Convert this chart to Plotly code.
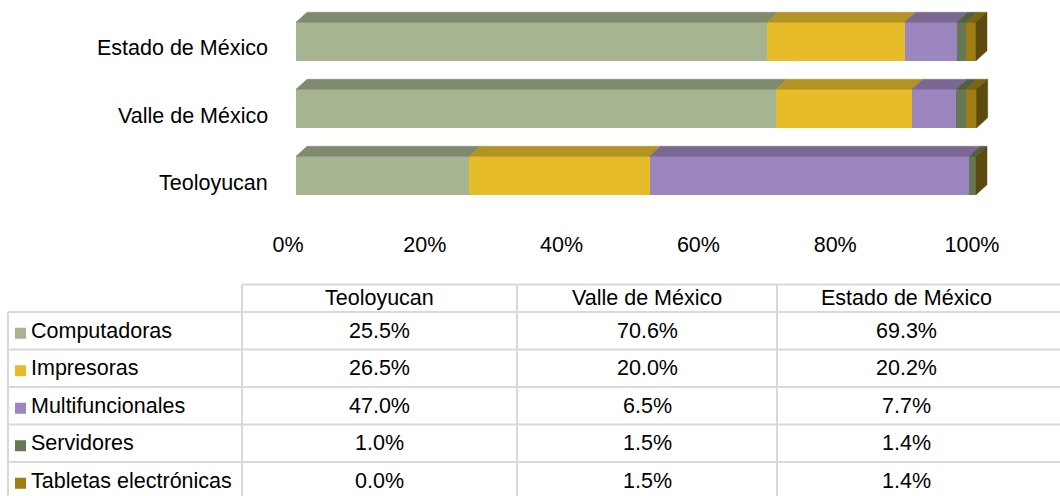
import plotly.graph_objects as go

# ---------------- data ----------------
categories = ["Teoloyucan", "Valle de México", "Estado de México"]
series_names = ["Computadoras", "Impresoras", "Multifuncionales", "Servidores", "Tabletas electrónicas"]
computadoras = [25.5, 70.6, 69.3]
impresoras = [26.5, 20.0, 20.2]
multifuncionales = [47.0, 6.5, 7.7]
servidores = [1.0, 1.5, 1.4]
tabletas = [0.0, 1.5, 1.4]
x_tick_vals = [0, 20, 40, 60, 80, 100]
x_tick_text = ["0%", "20%", "40%", "60%", "80%", "100%"]

series_values = [computadoras, impresoras, multifuncionales, servidores, tabletas]

# ---------------- style ----------------
front_colors = ["#A6B492", "#E6BD28", "#9B86BF", "#657755", "#9E7E12"]
top_colors = ["#7F8A6F", "#B39323", "#7A6892", "#515F43", "#7C6210"]
side_color = "#5C4A0E"
FONT = "Liberation Sans, Arial, sans-serif"
FS = 21.5
W, H = 1060, 496

def PX(px):
    return px / W

def PY(py):
    return 1 - py / H

# plot area geometry (pixels)
x0_px, px_per_unit = 296.0, 6.8
x_max = 103.0
y_top_px, y_bot_px = 8.0, 209.0  # range [-0.5, 2.5]
bar_w = 0.575
dx = 11 / px_per_unit            # depth offset in x units
dy = 10 / ((y_bot_px - y_top_px) / 3.0)  # depth offset in y units

fig = go.Figure()
ypos = list(range(len(categories)))

# front faces (stacked bars)
for name, vals, col in zip(series_names, series_values, front_colors):
    fig.add_trace(go.Bar(
        y=ypos, x=vals, orientation="h", name=name, width=bar_w,
        marker=dict(color=col, line=dict(width=0)), cliponaxis=False,
        showlegend=False, hoverinfo="x+name",
    ))

# top faces
for i, y in enumerate(ypos):
    base = 0.0
    yt = y + bar_w / 2
    for vals, tc in zip(series_values, top_colors):
        v = vals[i]
        if v > 0:
            xs = [base, base + v, base + v + dx, base + dx, base]
            ys = [yt, yt, yt + dy, yt + dy, yt]
            fig.add_trace(go.Scatter(x=xs, y=ys, mode="lines", fill="toself",
                                     fillcolor=tc, line=dict(color=tc, width=0.5),
                                     showlegend=False, hoverinfo="skip"))
        base += v
    # right side face
    yb = y - bar_w / 2
    xs = [base, base, base + dx, base + dx, base]
    ys = [yb, yt, yt + dy, yb + dy, yb]
    fig.add_trace(go.Scatter(x=xs, y=ys, mode="lines", fill="toself",
                             fillcolor=side_color, line=dict(color=side_color, width=0.5),
                             showlegend=False, hoverinfo="skip"))

# invisible trace to carry the label axis
fig.add_trace(go.Scatter(x=[None], y=[None], xaxis="x2", yaxis="y", showlegend=False, hoverinfo="skip"))

# axes
x_dom = [PX(x0_px), PX(x0_px + x_max * px_per_unit)]
# label axis: 0% centred at 288 px, 136.8 px per 20 %
lab_left, lab_right = 280.0, 1000.0
lab_zero, lab_scale = 288.0, 6.84
fig.update_layout(
    width=W, height=H, margin=dict(l=0, r=0, t=0, b=0, pad=0, autoexpand=False),
    paper_bgcolor="white", plot_bgcolor="rgba(0,0,0,0)",
    barmode="stack", showlegend=False,
    xaxis=dict(domain=x_dom, range=[0, x_max], showgrid=False, zeroline=False,
               showticklabels=False, showline=False, fixedrange=True, automargin=False),
    xaxis2=dict(domain=[PX(lab_left), PX(lab_right)], anchor="free",
                position=PY(229), side="bottom", automargin=False,
                range=[(lab_left - lab_zero) / lab_scale, (lab_right - lab_zero) / lab_scale],
                tickvals=x_tick_vals, ticktext=x_tick_text, showgrid=False, zeroline=False,
                showline=False, ticks="", tickfont=dict(family=FONT, size=FS, color="#000"),
                fixedrange=True),
    yaxis=dict(domain=[PY(y_bot_px), PY(y_top_px)], range=[-0.5, 2.5], showgrid=False, automargin=False,
               zeroline=False, showticklabels=False, showline=False, fixedrange=True),
)

annotations = []
# category labels
for y, c in zip(ypos, categories):
    annotations.append(dict(x=PX(270), xref="paper", y=y, yref="y", yshift=-7,
                            text=c, showarrow=False, xanchor="right", yanchor="middle",
                            font=dict(family=FONT, size=FS, color="#000")))

# ---------------- data table ----------------
grid = "#D9D9D9"
row_lines = [312.0, 349.5, 387.0, 424.5, 462.0, 499.5]
header_top = 284.5
col_edges = [8.0, 242.0, 517.0, 777.0, 1035.0]
shapes = []
lw = 2
shapes.append(dict(type="line", xref="paper", yref="paper", x0=PX(col_edges[1]), x1=PX(1060),
                   y0=PY(header_top), y1=PY(header_top), line=dict(color=grid, width=lw)))
for r in row_lines:
    shapes.append(dict(type="line", xref="paper", yref="paper", x0=PX(col_edges[0]), x1=PX(1060),
                       y0=PY(r), y1=PY(r), line=dict(color=grid, width=lw)))
shapes.append(dict(type="line", xref="paper", yref="paper", x0=PX(col_edges[0]), x1=PX(col_edges[0]),
                   y0=PY(row_lines[0]), y1=PY(H), line=dict(color=grid, width=lw)))
for cx in col_edges[1:4]:
    shapes.append(dict(type="line", xref="paper", yref="paper", x0=PX(cx), x1=PX(cx),
                       y0=PY(header_top), y1=PY(H), line=dict(color=grid, width=lw)))

# header
for j, c in enumerate(categories):
    cx = (col_edges[j + 1] + col_edges[j + 2]) / 2
    annotations.append(dict(x=PX(cx), y=PY((header_top + row_lines[0]) / 2), xref="paper", yref="paper",
                            text=c, showarrow=False, xanchor="center", yanchor="middle",
                            font=dict(family=FONT, size=FS, color="#000")))
# rows
for k, (name, vals, col) in enumerate(zip(series_names, series_values, front_colors)):
    cy = (row_lines[k] + row_lines[k + 1]) / 2
    shapes.append(dict(type="rect", xref="paper", yref="paper", x0=PX(15), x1=PX(26),
                       y0=PY(cy - 3), y1=PY(cy + 8), line=dict(width=0), fillcolor=col))
    annotations.append(dict(x=PX(29), y=PY(cy), xref="paper", yref="paper", text=name,
                            showarrow=False, xanchor="left", yanchor="middle",
                            font=dict(family=FONT, size=FS, color="#000")))
    for j, v in enumerate(vals):
        cx = (col_edges[j + 1] + col_edges[j + 2]) / 2
        annotations.append(dict(x=PX(cx), y=PY(cy), xref="paper", yref="paper",
                                text=f"{v:.1f}%", showarrow=False, xanchor="center", yanchor="middle",
                                font=dict(family=FONT, size=FS, color="#000")))

fig.update_layout(shapes=shapes, annotations=annotations)
fig.write_html("out.html", config={"displayModeBar": False},
               post_script="document.body.style.margin='0';document.body.style.overflow='hidden';")
